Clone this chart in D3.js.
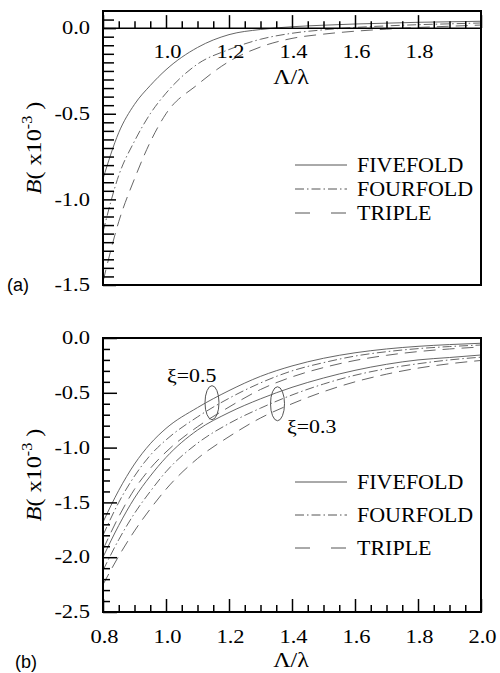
<!DOCTYPE html>
<html>
<head>
<meta charset="utf-8">
<script src="https://cdn.jsdelivr.net/npm/d3@7"></script>
<style>
  body { margin: 0; background: #fff; }
  svg { display: block; }
  svg text { font-family: "Liberation Serif", "Times New Roman", serif; }
  svg text.tag { font-family: "Liberation Sans", Arial, sans-serif; }
</style>
</head>
<body>
<div id="chart"></div>
<script>
// Λ/λ sample points shared by every curve
const lambdaRatio = [0.8, 0.85, 0.9, 0.95, 1.0, 1.1, 1.2, 1.3, 1.4, 1.5, 1.6, 1.7, 1.8, 1.9, 2.0];

// panel (a): B (x10^-3)
const aFivefold = [-0.88, -0.61, -0.445, -0.335, -0.243, -0.113, -0.038, -0.008, 0.008, 0.017, 0.024, 0.029, 0.034, 0.037, 0.04];
const aFourfold = [-1.19, -0.86, -0.66, -0.5, -0.38, -0.21, -0.125, -0.065, -0.03, -0.01, 0.004, 0.013, 0.02, 0.025, 0.03];
const aTriple   = [-1.48, -1.13, -0.88, -0.665, -0.5, -0.33, -0.195, -0.11, -0.06, -0.035, -0.018, -0.006, 0.004, 0.011, 0.018];

// panel (b): xi = 0.5
const bFivefold05 = [-1.68, -1.39, -1.15, -0.965, -0.825, -0.635, -0.48, -0.35, -0.255, -0.185, -0.135, -0.1, -0.076, -0.06, -0.048];
const bFourfold05 = [-1.8, -1.5, -1.26, -1.07, -0.93, -0.72, -0.55, -0.41, -0.3, -0.225, -0.165, -0.125, -0.097, -0.078, -0.064];
const bTriple05   = [-1.93, -1.63, -1.38, -1.19, -1.04, -0.81, -0.63, -0.47, -0.355, -0.27, -0.205, -0.158, -0.124, -0.1, -0.082];
// panel (b): xi = 0.3
const bFivefold03 = [-2.0, -1.71, -1.46, -1.26, -1.09, -0.84, -0.68, -0.555, -0.45, -0.365, -0.295, -0.24, -0.2, -0.178, -0.155];
const bFourfold03 = [-2.12, -1.84, -1.6, -1.4, -1.22, -0.96, -0.78, -0.64, -0.52, -0.42, -0.34, -0.28, -0.235, -0.2, -0.175];
const bTriple03   = [-2.25, -1.99, -1.76, -1.56, -1.38, -1.1, -0.9, -0.73, -0.6, -0.49, -0.4, -0.33, -0.275, -0.235, -0.205];

const seriesNames = ['FIVEFOLD', 'FOURFOLD', 'TRIPLE'];
const xTickLabelsA = [1.0, 1.2, 1.4, 1.6, 1.8];
const xTickLabelsB = [0.8, 1.0, 1.2, 1.4, 1.6, 1.8, 2.0];
const yTicksA = [0.0, -0.5, -1.0, -1.5];
const yTicksB = [0.0, -0.5, -1.0, -1.5, -2.0, -2.5];
const xiLabels = ['ξ=0.5', 'ξ=0.3'];
const xiCenters = [[1.146, -0.59], [1.354, -0.6]];

const dashes = { FIVEFOLD: null, FOURFOLD: '9,3,1.5,3', TRIPLE: '12,7' };
const curveColor = '#555';

const svg = d3.select('#chart').append('svg')
    .attr('width', 500)
    .attr('height', 673);

const x = d3.scaleLinear().domain([0.8, 2.0]).range([103, 481]);
const yA = d3.scaleLinear().domain([-1.5, 0.1]).range([285, 11]);
const yB = d3.scaleLinear().domain([-2.5, 0]).range([612, 338]);

// widen glyphs a little, the scanned figure is stretched horizontally
function stretch(sel, k) {
    sel.each(function () {
        const w = this.getComputedTextLength();
        this.setAttribute('textLength', w * k);
        this.setAttribute('lengthAdjust', 'spacingAndGlyphs');
    });
}

function styleAxis(g) {
    g.attr('font-family', null).attr('font-size', null);
    g.select('.domain').remove();
    g.selectAll('line').attr('stroke', '#000').attr('stroke-width', 1.5);
    g.selectAll('text')
        .style('font-size', '18px')
        .attr('fill', '#000');
}

const fmt = d => d.toFixed(1);
const minorX = d3.range(16, 41).filter(i => i % 4 !== 0).map(i => i * 0.05);

function drawPanel(cfg) {
    const { y, series, id } = cfg;
    const [x0, x1] = x.range();
    const [yb, yt] = y.range();

    svg.append('clipPath').attr('id', 'clip-' + id)
        .append('rect')
        .attr('x', x0).attr('y', yt)
        .attr('width', x1 - x0).attr('height', yb - yt);

    const line = d3.line()
        .x((d, i) => x(lambdaRatio[i]))
        .y(d => y(d))
        .curve(d3.curveMonotoneX);

    svg.append('g')
        .attr('clip-path', `url(#clip-${id})`)
        .selectAll('path')
        .data(series)
        .enter()
        .append('path')
        .attr('d', d => line(d.values))
        .attr('fill', 'none')
        .attr('stroke', curveColor)
        .attr('stroke-width', 0.9)
        .attr('stroke-dasharray', d => dashes[d.name]);

    // y axis, ticks pointing inwards
    const gy = svg.append('g').attr('transform', `translate(${x0},0)`);
    gy.call(d3.axisLeft(y).tickValues(cfg.yMajor).tickSize(-cfg.yMajorLen).tickPadding(13).tickFormat(fmt));
    styleAxis(gy);
    stretch(gy.selectAll('text'), 1.25);
    const gym = svg.append('g').attr('transform', `translate(${x0},0)`);
    gym.call(d3.axisLeft(y).tickValues(cfg.yMinor).tickSize(-cfg.yMinorLen).tickFormat(''));
    styleAxis(gym);

    // box
    svg.append('rect')
        .attr('x', x0).attr('y', yt)
        .attr('width', x1 - x0).attr('height', yb - yt)
        .attr('fill', 'none')
        .attr('stroke', '#000')
        .attr('stroke-width', 2);

    // x axis (at y = 0 in panel a, at the bottom in panel b)
    const ax = y(cfg.xAxisAt);
    svg.append('line')
        .attr('x1', x0).attr('x2', x1)
        .attr('y1', ax).attr('y2', ax)
        .attr('stroke', '#000').attr('stroke-width', 1.5);
    const gx = svg.append('g').attr('transform', `translate(0,${ax})`);
    gx.call(d3.axisBottom(x).tickValues(d3.range(4, 11).map(i => i * 0.2)).tickSize(-13).tickFormat(''));
    styleAxis(gx);
    const gxm = svg.append('g').attr('transform', `translate(0,${ax})`);
    gxm.call(d3.axisBottom(x).tickValues(minorX).tickSize(-7).tickFormat(''));
    styleAxis(gxm);

    const gl = svg.append('g').attr('transform', `translate(0,${ax})`);
    gl.call(d3.axisBottom(x).tickValues(cfg.xLabels).tickSize(0).tickFormat(fmt));
    styleAxis(gl);
    gl.selectAll('line').remove();
    gl.selectAll('text').attr('y', cfg.xLabelDy).attr('dy', 0).attr('dx', 1);
    stretch(gl.selectAll('text'), 1.25);

    // axis titles
    const xt = svg.append('text')
        .attr('x', 291).attr('y', cfg.xTitleY)
        .attr('text-anchor', 'middle')
        .style('font-size', '20px')
        .text('Λ/λ');
    stretch(xt, 1.2);

    const yt2 = svg.append('text')
        .attr('transform', `translate(41,${cfg.yTitleMid}) rotate(-90)`)
        .attr('text-anchor', 'middle')
        .style('font-size', '21px');
    yt2.append('tspan').attr('font-style', 'italic').text('B');
    yt2.append('tspan').text('( x10');
    yt2.append('tspan').attr('dy', -9).style('font-size', '14px').text('-3');
    yt2.append('tspan').attr('dy', 9).text(' )');
    stretch(yt2, 1.15);

    // legend
    const lg = svg.append('g')
        .selectAll('g')
        .data(seriesNames)
        .enter()
        .append('g')
        .attr('transform', (d, i) => `translate(0,${cfg.legendY[i]})`);
    lg.append('line')
        .attr('x1', 295).attr('x2', 347)
        .attr('stroke', curveColor)
        .attr('stroke-width', 1)
        .attr('stroke-dasharray', d => d === 'TRIPLE' ? '15,21' : dashes[d]);
    const lt = lg.append('text')
        .attr('x', 357).attr('y', 7)
        .style('font-size', '20px')
        .text(d => d);
    stretch(lt, 1.1);

    // panel letter
    svg.append('text')
        .attr('class', 'tag')
        .attr('x', cfg.tagX).attr('y', cfg.tagY)
        .style('font-size', '18px')
        .text(cfg.tag);
}

const mk = (name, values) => ({ name, values });

drawPanel({
    id: 'a',
    y: yA,
    series: [mk('FIVEFOLD', aFivefold), mk('FOURFOLD', aFourfold), mk('TRIPLE', aTriple)],
    yMajor: yTicksA,
    yMajorLen: 13,
    yMinor: d3.range(-30, 2).filter(i => i % 10 !== 0).map(i => i * 0.05),
    yMinorLen: 11,
    xAxisAt: 0,
    xLabels: xTickLabelsA,
    xLabelDy: 30,
    xTitleY: 84,
    yTitleMid: 148,
    legendY: [165, 189, 213],
    tag: '(a)', tagX: 7, tagY: 291
});

drawPanel({
    id: 'b',
    y: yB,
    series: [
        mk('FIVEFOLD', bFivefold05), mk('FOURFOLD', bFourfold05), mk('TRIPLE', bTriple05),
        mk('FIVEFOLD', bFivefold03), mk('FOURFOLD', bFourfold03), mk('TRIPLE', bTriple03)
    ],
    yMajor: yTicksB,
    yMajorLen: 14,
    yMinor: d3.range(-25, 1).filter(i => i % 5 !== 0).map(i => i * 0.1),
    yMinorLen: 7,
    xAxisAt: -2.5,
    xLabels: xTickLabelsB,
    xLabelDy: 31,
    xTitleY: 667,
    yTitleMid: 475,
    legendY: [482, 515, 548],
    tag: '(b)', tagX: 15, tagY: 668
});

// xi annotations with ellipses
svg.append('g')
    .selectAll('ellipse')
    .data(xiCenters)
    .enter()
    .append('ellipse')
    .attr('cx', d => x(d[0]))
    .attr('cy', d => yB(d[1]))
    .attr('rx', 7)
    .attr('ry', 17)
    .attr('fill', 'none')
    .attr('stroke', curveColor)
    .attr('stroke-width', 1);

const xiPos = [[167, 382], [287, 433]];
const xt = svg.append('g')
    .selectAll('text')
    .data(xiLabels)
    .enter()
    .append('text')
    .attr('x', (d, i) => xiPos[i][0])
    .attr('y', (d, i) => xiPos[i][1])
    .style('font-size', '19px')
    .text(d => d);
stretch(xt, 1.15);
</script>
</body>
</html>
